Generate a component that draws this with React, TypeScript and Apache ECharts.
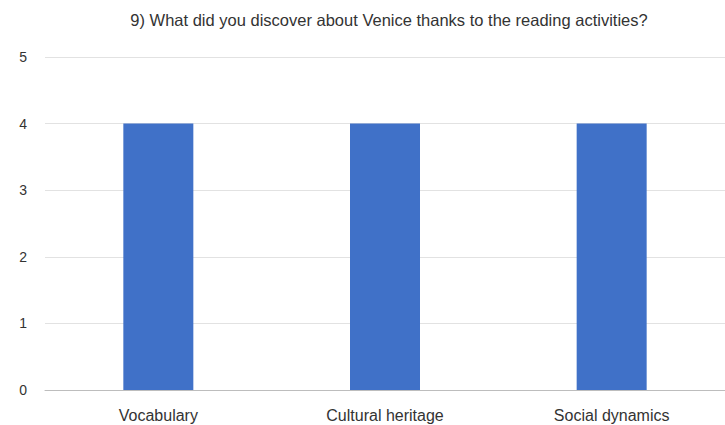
import React, { useEffect, useRef } from "react";
import * as echarts from "echarts";

const titleText = "9) What did you discover about Venice thanks to the reading activities?";
const categories = ["Vocabulary", "Cultural heritage", "Social dynamics"];
const values = [4, 4, 4];

export default function App() {
  const ref = useRef<HTMLDivElement>(null);
  useEffect(() => {
    if (!ref.current) return;
    const chart = echarts.init(ref.current, undefined, { renderer: "svg" });
    chart.setOption({
      animation: false,
      backgroundColor: "#ffffff",
      title: {
        text: titleText,
        left: 384,
        textAlign: "center",
        top: 6,
        textStyle: { fontFamily: "Liberation Sans", fontSize: 16.5, fontWeight: "normal", color: "#333333" },
      },
      grid: { left: 45, width: 689, top: 57, height: 333, containLabel: false },
      xAxis: {
        type: "category",
        data: categories,
        axisTick: { show: false },
        axisLine: { lineStyle: { color: "#bdbdbd" } },
        axisLabel: { fontFamily: "Liberation Sans", fontSize: 16, color: "#333333", margin: 17 },
      },
      yAxis: {
        type: "value",
        min: 0,
        max: 5,
        interval: 1,
        axisLine: { show: false },
        axisTick: { show: false },
        splitLine: { lineStyle: { color: "#e2e2e2" } },
        axisLabel: { fontFamily: "Liberation Sans", fontSize: 14, color: "#333333", margin: 18 },
      },
      series: [
        {
          type: "bar",
          data: values,
          barWidth: 70,
          itemStyle: { color: "#4071c8" },
        },
      ],
    });
    return () => chart.dispose();
  }, []);
  return <div ref={ref} style={{ width: 725, height: 425, position: "absolute", left: 0, top: 0 }} />;
}
